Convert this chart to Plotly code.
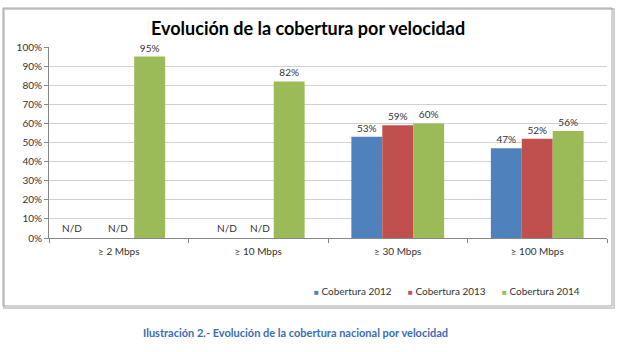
import plotly.graph_objects as go

categories = ["≥ 2 Mbps", "≥ 10 Mbps", "≥ 30 Mbps", "≥ 100 Mbps"]
series_names = ["Cobertura 2012", "Cobertura 2013", "Cobertura 2014"]
cob_2012 = [None, None, 53, 47]
cob_2013 = [None, None, 59, 52]
cob_2014 = [95, 82, 60, 56]
y_ticks = [0, 10, 20, 30, 40, 50, 60, 70, 80, 90, 100]
na_label = "N/D"
title_text = "Evolución de la cobertura por velocidad"
caption_text = "Ilustración 2.- Evolución de la cobertura nacional por velocidad"

colors = ["#4F81BD", "#C0504D", "#9BBB59"]
FONT = "Lato, Carlito, 'Liberation Sans', sans-serif"

W, H = 617, 352
L, R, T, B = 49, 10, 47, 114
pw, ph = W - L - R, H - T - B


def px_x(x):
    return (x - L) / pw


def px_y(y):
    return (H - B - y) / ph


fig = go.Figure()
for name, vals, col in zip(series_names, [cob_2012, cob_2013, cob_2014], colors):
    fig.add_trace(go.Bar(
        x=categories, y=vals, name=name, marker=dict(color=col, line=dict(width=0)),
        text=[f"{v}%" if v is not None else "" for v in vals],
        textposition="outside", textfont=dict(size=10, color="#333333", family=FONT),
        cliponaxis=False, showlegend=False,
    ))

# N/D labels for missing values
na_shift = {0: [-47, -1], 1: [-31, 2]}
annotations = []
for ci, shifts in na_shift.items():
    for s in shifts:
        annotations.append(dict(x=categories[ci], y=0, xref="x", yref="y", text=na_label,
                                showarrow=False, xshift=s, yshift=10,
                                font=dict(size=10, color="#333333", family=FONT)))

# Legend (drawn as annotations for Excel-like layout)
leg_x = [312, 406, 500]
for name, col, lx in zip(series_names, colors, leg_x):
    annotations.append(dict(x=px_x(lx), y=px_y(291), xref="paper", yref="paper",
                            xanchor="left", yanchor="middle", showarrow=False,
                            text=f'<span style="color:{col};font-size:8px">■</span> {name}',
                            font=dict(size=10, color="#333333", family=FONT)))

# Title
annotations.append(dict(x=px_x(308), y=px_y(28), xref="paper", yref="paper",
                        xanchor="center", yanchor="middle", showarrow=False,
                        text=f"<b>{title_text}</b>",
                        font=dict(size=18, color="#000000", family=FONT)))
# Caption
annotations.append(dict(x=px_x(295), y=px_y(332), xref="paper", yref="paper",
                        xanchor="center", yanchor="middle", showarrow=False,
                        text=f"<b>{caption_text}</b>",
                        font=dict(size=11, color="#3B6DB3", family=FONT)))

shapes = [
    # shadow
    dict(type="rect", xref="paper", yref="paper", x0=px_x(4), x1=px_x(614),
         y0=px_y(9), y1=px_y(308), line=dict(color="#D0D0D0", width=2), layer="below"),
    dict(type="rect", xref="paper", yref="paper", x0=px_x(3), x1=px_x(612),
         y0=px_y(8), y1=px_y(306), line=dict(color="#A6A6A6", width=1), layer="below"),
]

fig.update_layout(
    width=W, height=H, margin=dict(l=L, r=R, t=T, b=B),
    paper_bgcolor="white", plot_bgcolor="white",
    barmode="group", bargap=0.335, bargroupgap=0,
    font=dict(family=FONT, size=10, color="#333333"),
    annotations=annotations, shapes=shapes, showlegend=False,
    xaxis=dict(showline=True, linecolor="#868686", linewidth=1, ticks="outside",
               tickcolor="#868686", ticklen=4, tickson="boundaries",
               ticklabelstandoff=4,
               tickfont=dict(size=10, color="#333333"), showgrid=False),
    yaxis=dict(range=[0, 100], tickvals=y_ticks, ticktext=[f"{v}%" for v in y_ticks],
               showline=True, linecolor="#868686", linewidth=1, ticks="outside",
               tickcolor="#868686", ticklen=4, gridcolor="#D0D0D0", gridwidth=1,
               tickfont=dict(size=10, color="#333333"), zeroline=False),
)

fig.write_html("out.html")
